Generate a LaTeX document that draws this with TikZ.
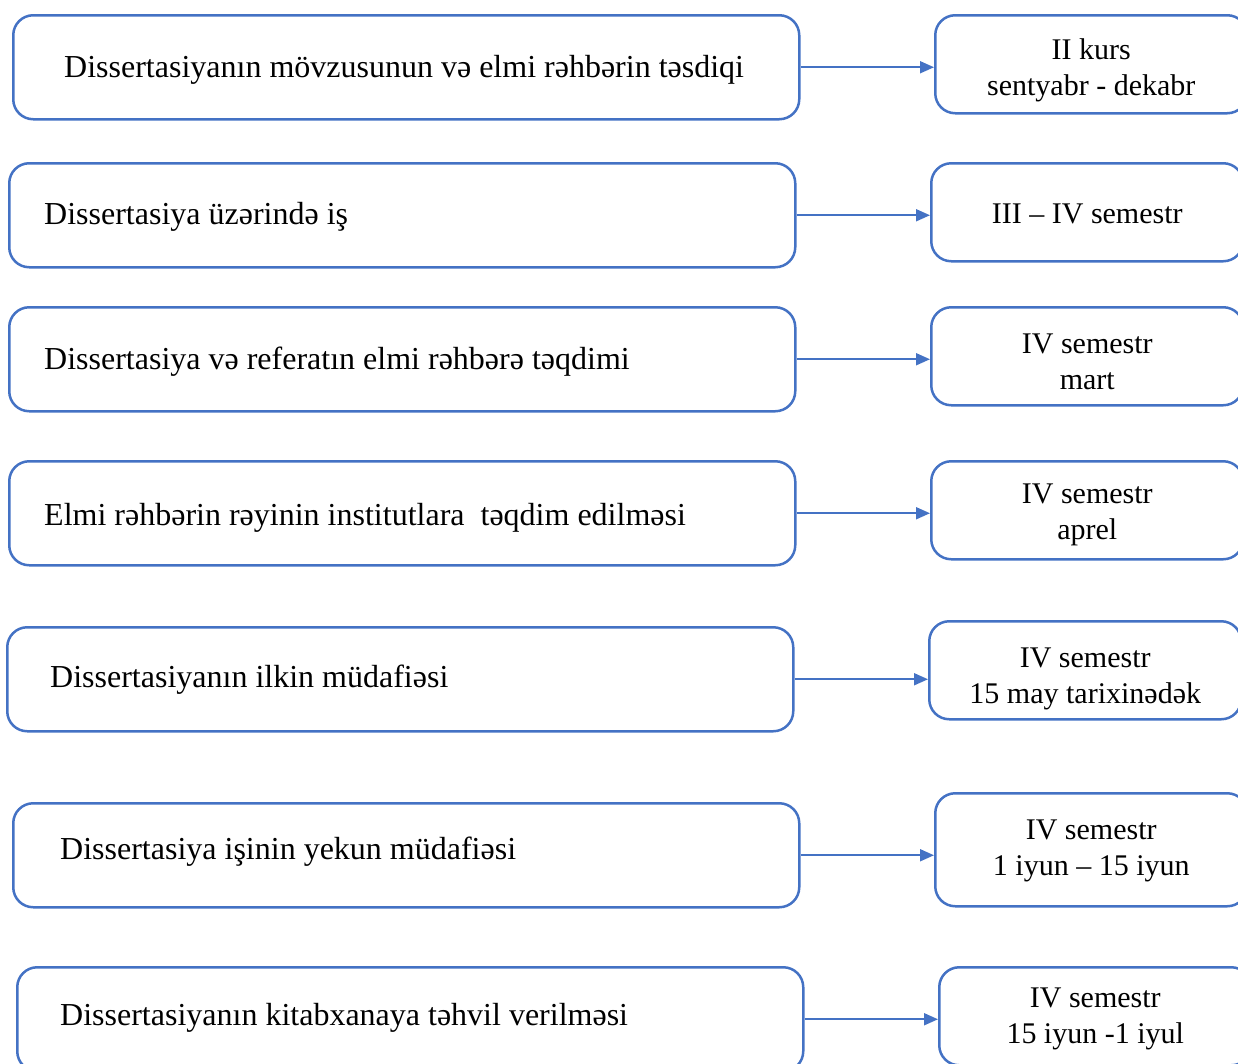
\documentclass[tikz,border=0pt]{standalone}
\usepackage{fontspec}
\setmainfont{Liberation Serif}
\usetikzlibrary{positioning,arrows.meta}
\definecolor{boxblue}{HTML}{4472C4}

\tikzset{
  StepBox/.style={draw=boxblue, line width=2.5pt, rounded corners=20pt,
    minimum width=786pt, minimum height=104pt, anchor=north west, inner sep=0pt},
  TermBox/.style={draw=boxblue, line width=2.5pt, rounded corners=20pt,
    minimum width=312pt, minimum height=98pt, anchor=north west, inner sep=0pt},
  StepText/.style={font=\fontsize{32}{38}\selectfont, inner sep=0pt},
  TermText/.style={font=\fontsize{30}{36}\selectfont, inner sep=0pt, align=center},
  Link/.style={draw=boxblue, line width=1.8pt, -{Triangle[length=14pt,width=12pt]}}
}

\begin{document}
\begin{tikzpicture}[x=1pt,y=-1pt]

\clip (0,0) rectangle (1238,1063);

% steps
\node[StepBox] (s1) at (12,14) {};
\node[StepBox] (s2) at (8,162) {};
\node[StepBox] (s3) at (8,306) {};
\node[StepBox] (s4) at (8,460) {};
\node[StepBox] (s5) at (6,626) {};
\node[StepBox] (s6) at (12,802) {};
\node[StepBox] (s7) at (16,966) {};

\node[StepText, right=52pt of s1.west, yshift=-3pt] (t1) {Dissertasiyanın mövzusunun və elmi rəhbərin təsdiqi};
\node[StepText, right=36pt of s2.west, yshift=-2pt] (t2) {Dissertasiya üzərində iş};
\node[StepText, right=36pt of s3.west, yshift=-2pt] (t3) {Dissertasiya və referatın elmi rəhbərə təqdimi};
\node[StepText, right=36pt of s4.west, yshift=-5pt] (t4) {Elmi rəhbərin rəyinin institutlara\ \ təqdim edilməsi};
\node[StepText, right=44pt of s5.west] (t5) {Dissertasiyanın ilkin müdafiəsi};
\node[StepText, right=48pt of s6.west, yshift=4pt] (t6) {Dissertasiya işinin yekun müdafiəsi};
\node[StepText, right=44pt of s7.west, yshift=1pt] (t7) {Dissertasiyanın kitabxanaya təhvil verilməsi};

% terms
\node[TermBox] (r1) at (934,14) {};
\node[TermBox] (r2) at (930,162) {};
\node[TermBox] (r3) at (930,306) {};
\node[TermBox] (r4) at (930,460) {};
\node[TermBox] (r5) at (928,620) {};
\node[TermBox, minimum height=113pt] (r6) at (934,792) {};
\node[TermBox] (r7) at (938,966) {};

\node[TermText, yshift=-6pt] (q1) at (r1) {II kurs\\sentyabr - dekabr};
\node[TermText, yshift=-2pt] (q2) at (r2) {III -- IV semestr};
\node[TermText, yshift=-6pt] (q3) at (r3) {IV semestr\\mart};
\node[TermText, yshift=-5pt] (q4) at (r4) {IV semestr\\aprel};
\node[TermText, yshift=-9pt] (q5) at (r5) {IV semestr\\15 may tarixinədək};
\node[TermText, yshift=-1pt] (q6) at (r6) {IV semestr\\1 iyun -- 15 iyun};
\node[TermText, yshift=-3pt] (q7) at (r7) {IV semestr\\15 iyun -1 iyul};

\foreach \i in {1,...,7}
  \draw[Link] (s\i.east) -- (s\i.east -| r\i.west);

\end{tikzpicture}
\end{document}
